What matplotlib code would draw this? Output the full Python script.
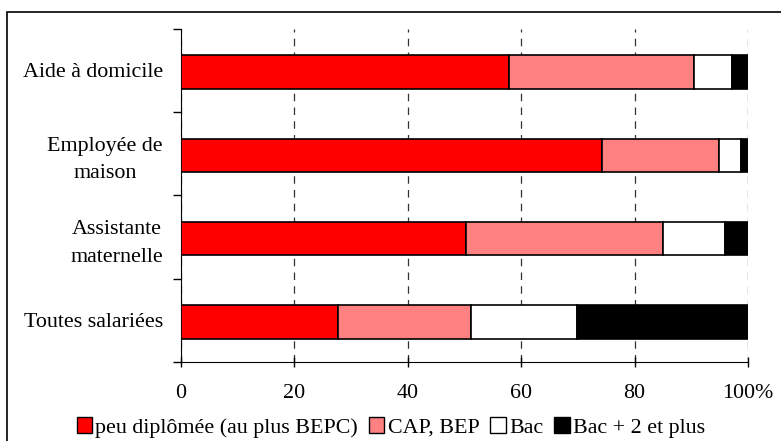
import numpy as np
import matplotlib.pyplot as plt
from matplotlib.patches import Rectangle

plt.rcParams['font.family'] = ['Liberation Serif', 'DejaVu Serif']

#===================================================================================================
categories = ['Aide à domicile', 'Employée de\nmaison', 'Assistante\nmaternelle', 'Toutes salariées']
series_names = ['peu diplômée (au plus BEPC)', 'CAP, BEP', 'Bac', 'Bac + 2 et plus']

peu_diplomee = [57.9, 74.3, 50.3, 27.7]     #% red
cap_bep = [32.6, 20.5, 34.7, 23.5]          #% pink
bac = [6.7, 3.9, 10.9, 18.7]                #% white
bac_plus_2 = [2.8, 1.3, 4.1, 30.1]          #% black

xticks = [0, 20, 40, 60, 80, 100]
xtick_labels = ['0', '20', '40', '60', '80', '100%']

#===================================================================================================
colors = ['#ff0000', '#ff8080', '#ffffff', '#000000']
series = [peu_diplomee, cap_bep, bac, bac_plus_2]
fs = 15.8

fig = plt.figure(figsize=(7.81, 4.41), dpi=100)
ax = fig.add_axes([181/781, 1-362/441, (748-181)/781, (362-28.5)/441])

y = np.arange(len(categories))
left = np.zeros(len(categories))
for vals, col, name in zip(series, colors, series_names):
    ax.barh(y + 0.02, vals, left=left, height=0.4, color=col, edgecolor='black', linewidth=1.2, label=name, zorder=3)
    left = left + np.array(vals)

ax.set_xlim(0, 100)
ax.set_ylim(3.5, -0.5)

ax.set_yticks(y)
ax.set_yticklabels(categories, fontsize=fs, linespacing=1.6)
ax.tick_params(axis='y', which='major', length=0, pad=13)
ax.set_yticks([-0.5, 0.5, 1.5, 2.5, 3.5], minor=True)
ax.tick_params(axis='y', which='minor', length=6, direction='out', width=1)
for lab in ax.get_yticklabels():
    lab.set_multialignment('center')

ax.set_xticks(xticks)
ax.set_xticklabels(xtick_labels, fontsize=fs)
ax.tick_params(axis='x', length=7, direction='inout', width=1, pad=12)

ax.grid(axis='x', linestyle=(0, (6, 5)), color='#333333', linewidth=0.9, zorder=0)
ax.spines['top'].set_visible(False)
ax.spines['right'].set_visible(False)

leg = ax.legend(loc='upper center', bbox_to_anchor=(0.37, -0.14), ncol=4, frameon=False,
                fontsize=fs, handlelength=0.7, handleheight=0.7, handletextpad=0.15,
                columnspacing=0.5, borderaxespad=0)
for h in leg.legend_handles:
    h.set_linewidth(1.0)

#Frame around the figure
fig.add_artist(Rectangle((7/781, -0.1), 1.0, 1-12/441+0.1, transform=fig.transFigure,
                         fill=False, edgecolor='black', linewidth=1.2))

fig.savefig('out.png', dpi=100)
